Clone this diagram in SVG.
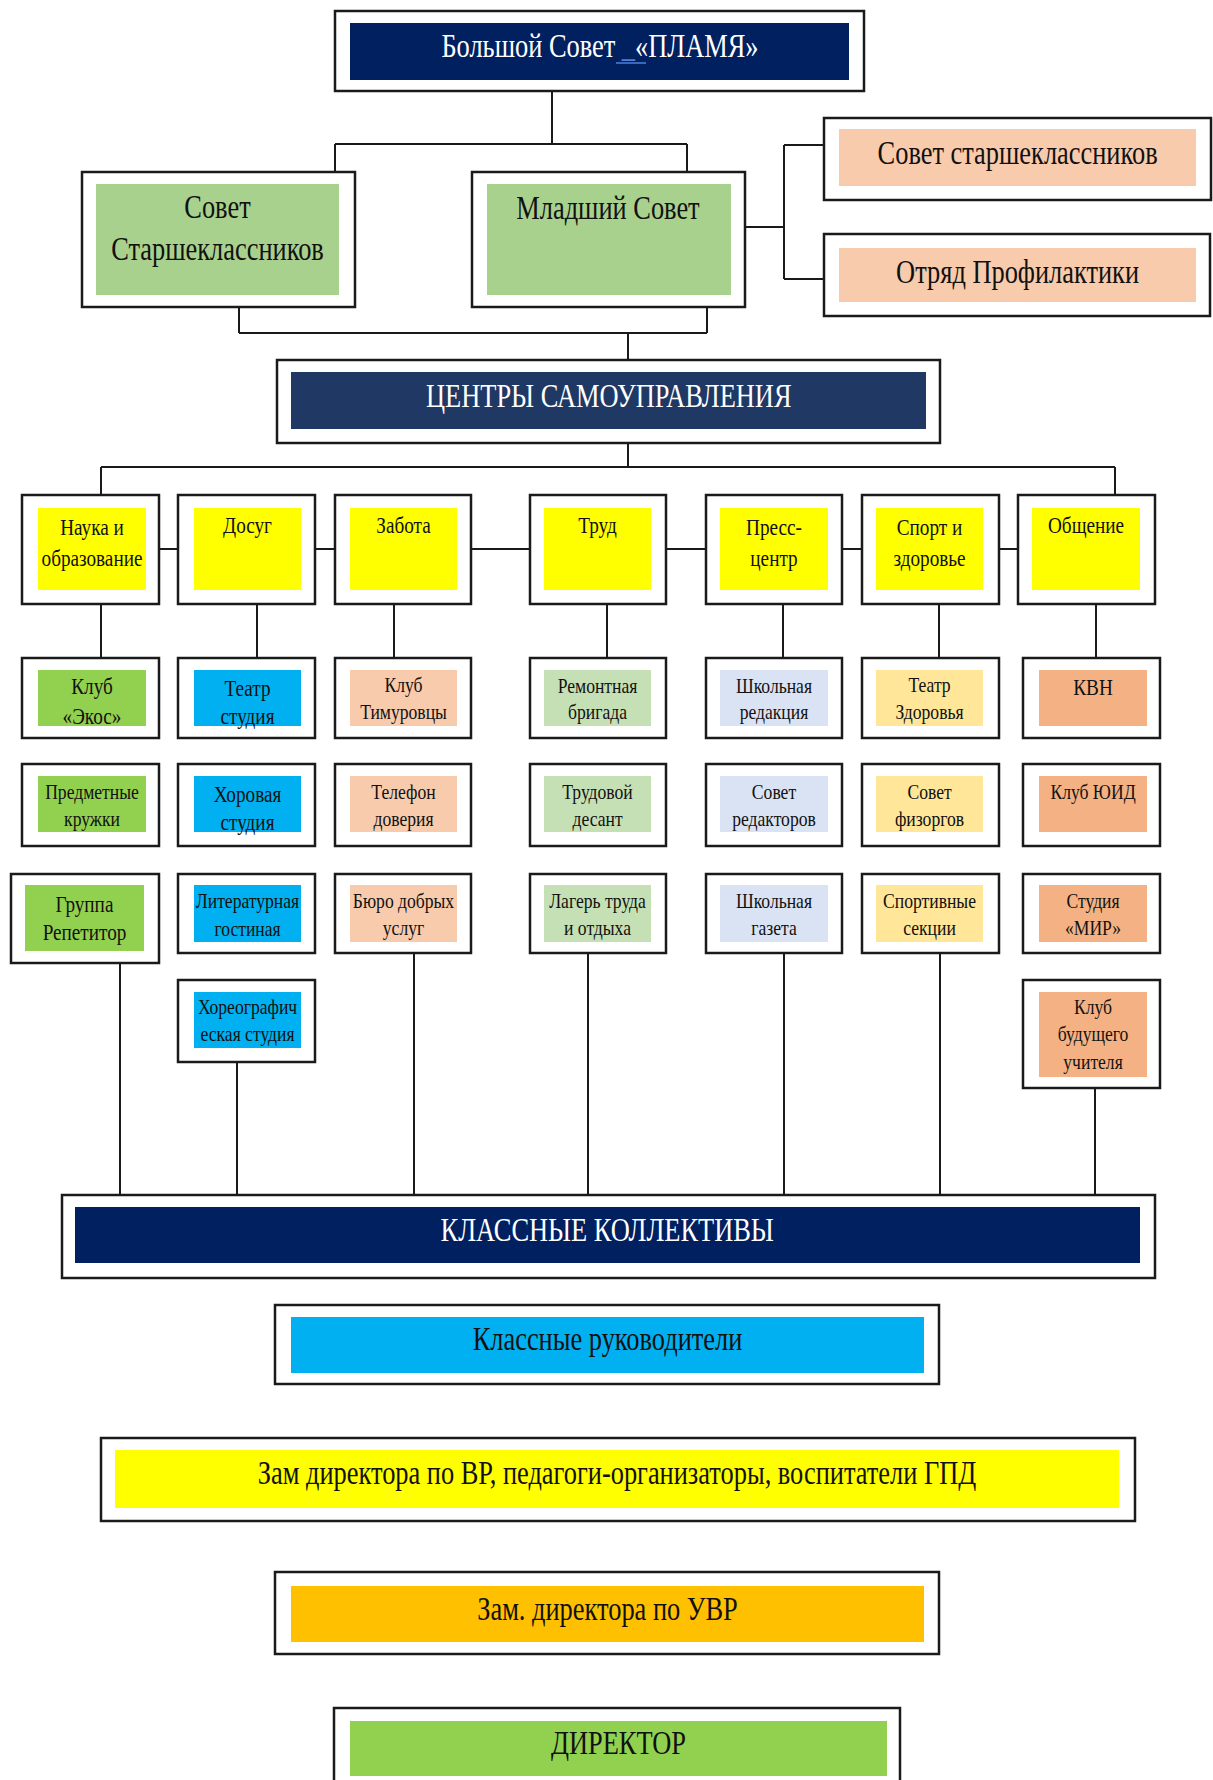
<svg xmlns="http://www.w3.org/2000/svg" width="1213" height="1780" viewBox="0 0 1213 1780">
<style>
.frame{fill:#ffffff;stroke:#1a1a1a;stroke-width:2.5}
.conn{stroke:#1a1a1a;stroke-width:2;fill:none}
text{font-family:"Liberation Serif","Times New Roman",serif;text-anchor:middle;fill:#111}
.big{font-size:33px}
.w{fill:#ffffff}
.cat{font-size:24px}
.sub{font-size:22px}
.sub24{font-size:24px}
</style>
<rect width="1213" height="1780" fill="#ffffff"/>

<g id="connectors">
<path class="conn" d="M552 91V144M335 144H687M335 144V172M687 144V172"/>
<path class="conn" d="M745 227H784M784 145V279M784 145H824M784 279H824"/>
<path class="conn" d="M239 307V333M707 307V333M239 333H707M628 333V360"/>
<path class="conn" d="M628 443V467M101 467H1115M101 467V495M1115 467V495"/>
<path class="conn" d="M159 549H178M315 549H335M471 549H530M666 549H706M842 549H862M999 549H1018"/>
<path class="conn" d="M101 604V658M257 604V658M394 604V658M607 604V658M783 604V658M939 604V658M1096 604V658"/>
<path class="conn" d="M120 963V1195M237 1062V1195M414 953V1195M588 953V1195M784 953V1195M940 953V1195M1095 1088V1195"/>
</g>

<g id="bolshoy-sovet">
<rect class="frame" x="335" y="11" width="529" height="80"/>
<rect x="350" y="23" width="499" height="57" fill="#002060"/>
<text class="big w" x="750" y="57" transform="scale(0.8,1)">Большой Совет <tspan fill="#4f7fd6">_</tspan>«ПЛАМЯ»</text>
<line x1="616" y1="63" x2="646" y2="63" stroke="#4f7fd6" stroke-width="1.5"/>
</g>

<g id="sovet-starsheklassnikov-left">
<rect class="frame" x="82" y="172" width="273" height="135"/>
<rect x="96" y="184" width="243" height="111" fill="#A9D18E"/>
<text class="big" x="271.9" y="218" transform="scale(0.8,1)">Совет</text>
<text class="big" x="271.9" y="260" transform="scale(0.8,1)">Старшеклассников</text>
</g>

<g id="mladshiy-sovet">
<rect class="frame" x="472" y="172" width="273" height="135"/>
<rect x="487" y="184" width="244" height="111" fill="#A9D18E"/>
<text class="big" x="760" y="219" transform="scale(0.8,1)">Младший Совет</text>
</g>

<g id="sovet-starsheklassnikov-right">
<rect class="frame" x="824" y="118" width="387" height="82"/>
<rect x="839" y="129" width="357" height="57" fill="#F8CBAD"/>
<text class="big" x="1272" y="164" transform="scale(0.8,1)">Совет старшеклассников</text>
</g>

<g id="otryad-profilaktiki">
<rect class="frame" x="824" y="234" width="386" height="82"/>
<rect x="839" y="248" width="357" height="54" fill="#F8CBAD"/>
<text class="big" x="1272" y="283" transform="scale(0.8,1)">Отряд Профилактики</text>
</g>

<g id="centry">
<rect class="frame" x="277" y="360" width="663" height="83"/>
<rect x="291" y="372" width="635" height="57" fill="#1F3864"/>
<text class="big w" x="761" y="407" transform="scale(0.8,1)">ЦЕНТРЫ САМОУПРАВЛЕНИЯ</text>
</g>

<g id="cat-nauka">
<rect class="frame" x="22" y="495" width="137" height="109"/>
<rect x="38" y="508" width="108" height="82" fill="#FFFF00"/>
<text class="cat" x="115" y="535" transform="scale(0.8,1)">Наука и</text>
<text class="cat" x="115" y="566" transform="scale(0.8,1)">образование</text>
</g>
<g id="cat-dosug">
<rect class="frame" x="178" y="495" width="137" height="109"/>
<rect x="194" y="508" width="107" height="82" fill="#FFFF00"/>
<text class="cat" x="309.4" y="533" transform="scale(0.8,1)">Досуг</text>
</g>
<g id="cat-zabota">
<rect class="frame" x="335" y="495" width="136" height="109"/>
<rect x="350" y="508" width="107" height="82" fill="#FFFF00"/>
<text class="cat" x="504.4" y="533" transform="scale(0.8,1)">Забота</text>
</g>
<g id="cat-trud">
<rect class="frame" x="530" y="495" width="136" height="109"/>
<rect x="544" y="508" width="107" height="82" fill="#FFFF00"/>
<text class="cat" x="746.9" y="533" transform="scale(0.8,1)">Труд</text>
</g>
<g id="cat-press">
<rect class="frame" x="706" y="495" width="136" height="109"/>
<rect x="720" y="508" width="108" height="82" fill="#FFFF00"/>
<text class="cat" x="967.5" y="535" transform="scale(0.8,1)">Пресс-</text>
<text class="cat" x="967.5" y="566" transform="scale(0.8,1)">центр</text>
</g>
<g id="cat-sport">
<rect class="frame" x="862" y="495" width="137" height="109"/>
<rect x="876" y="508" width="107" height="82" fill="#FFFF00"/>
<text class="cat" x="1161.9" y="535" transform="scale(0.8,1)">Спорт и</text>
<text class="cat" x="1161.9" y="566" transform="scale(0.8,1)">здоровье</text>
</g>
<g id="cat-obshchenie">
<rect class="frame" x="1018" y="495" width="137" height="109"/>
<rect x="1032" y="508" width="108" height="82" fill="#FFFF00"/>
<text class="cat" x="1357.5" y="533" transform="scale(0.8,1)">Общение</text>
</g>

<!-- column 1 -->
<g id="klub-ekos">
<rect class="frame" x="22" y="658" width="137" height="80"/>
<rect x="38" y="670" width="108" height="56" fill="#92D050"/>
<text class="sub24" x="115" y="694" transform="scale(0.8,1)">Клуб</text>
<text class="sub24" x="115" y="724" transform="scale(0.8,1)">«Экос»</text>
</g>
<g id="predmetnye-kruzhki">
<rect class="frame" x="22" y="764" width="137" height="82"/>
<rect x="38" y="776" width="108" height="56" fill="#92D050"/>
<text class="sub" x="115" y="799" transform="scale(0.8,1)">Предметные</text>
<text class="sub" x="115" y="826" transform="scale(0.8,1)">кружки</text>
</g>
<g id="gruppa-repetitor">
<rect class="frame" x="11" y="874" width="148" height="89"/>
<rect x="25" y="885" width="119" height="66" fill="#92D050"/>
<text class="sub24" x="105.6" y="912" transform="scale(0.8,1)">Группа</text>
<text class="sub24" x="105.6" y="940" transform="scale(0.8,1)">Репетитор</text>
</g>

<!-- column 2 -->
<g id="teatr-studiya">
<rect class="frame" x="178" y="658" width="137" height="80"/>
<rect x="194" y="670" width="107" height="56" fill="#00B0F0"/>
<text class="sub24" x="309.4" y="696" transform="scale(0.8,1)">Театр</text>
<text class="sub24" x="309.4" y="724" transform="scale(0.8,1)">студия</text>
</g>
<g id="khorovaya-studiya">
<rect class="frame" x="178" y="764" width="137" height="82"/>
<rect x="194" y="776" width="107" height="56" fill="#00B0F0"/>
<text class="sub24" x="309.4" y="802" transform="scale(0.8,1)">Хоровая</text>
<text class="sub24" x="309.4" y="830" transform="scale(0.8,1)">студия</text>
</g>
<g id="literaturnaya-gostinaya">
<rect class="frame" x="178" y="874" width="137" height="79"/>
<rect x="194" y="885" width="107" height="57" fill="#00B0F0"/>
<text class="sub" x="309.4" y="908" transform="scale(0.8,1)">Литературная</text>
<text class="sub" x="309.4" y="936" transform="scale(0.8,1)">гостиная</text>
</g>
<g id="khoreograficheskaya-studiya">
<rect class="frame" x="178" y="980" width="137" height="82"/>
<rect x="194" y="992" width="107" height="56" fill="#00B0F0"/>
<text class="sub" x="309.4" y="1014" transform="scale(0.8,1)">Хореографич</text>
<text class="sub" x="309.4" y="1041" transform="scale(0.8,1)">еская студия</text>
</g>

<!-- column 3 -->
<g id="klub-timurovtsy">
<rect class="frame" x="335" y="658" width="136" height="80"/>
<rect x="350" y="670" width="107" height="56" fill="#F8CBAD"/>
<text class="sub" x="504.4" y="692" transform="scale(0.8,1)">Клуб</text>
<text class="sub" x="504.4" y="719" transform="scale(0.8,1)">Тимуровцы</text>
</g>
<g id="telefon-doveriya">
<rect class="frame" x="335" y="764" width="136" height="82"/>
<rect x="350" y="776" width="107" height="56" fill="#F8CBAD"/>
<text class="sub" x="504.4" y="799" transform="scale(0.8,1)">Телефон</text>
<text class="sub" x="504.4" y="826" transform="scale(0.8,1)">доверия</text>
</g>
<g id="byuro-dobrykh-uslug">
<rect class="frame" x="335" y="874" width="136" height="79"/>
<rect x="350" y="885" width="107" height="57" fill="#F8CBAD"/>
<text class="sub" x="504.4" y="908" transform="scale(0.8,1)">Бюро добрых</text>
<text class="sub" x="504.4" y="935" transform="scale(0.8,1)">услуг</text>
</g>

<!-- column 4 -->
<g id="remontnaya-brigada">
<rect class="frame" x="530" y="658" width="136" height="80"/>
<rect x="544" y="670" width="107" height="56" fill="#C5E0B4"/>
<text class="sub" x="746.9" y="693" transform="scale(0.8,1)">Ремонтная</text>
<text class="sub" x="746.9" y="719" transform="scale(0.8,1)">бригада</text>
</g>
<g id="trudovoy-desant">
<rect class="frame" x="530" y="764" width="136" height="82"/>
<rect x="544" y="776" width="107" height="56" fill="#C5E0B4"/>
<text class="sub" x="746.9" y="799" transform="scale(0.8,1)">Трудовой</text>
<text class="sub" x="746.9" y="826" transform="scale(0.8,1)">десант</text>
</g>
<g id="lager-truda">
<rect class="frame" x="530" y="874" width="136" height="79"/>
<rect x="544" y="885" width="107" height="57" fill="#C5E0B4"/>
<text class="sub" x="746.9" y="908" transform="scale(0.8,1)">Лагерь труда</text>
<text class="sub" x="746.9" y="935" transform="scale(0.8,1)">и отдыха</text>
</g>

<!-- column 5 -->
<g id="shkolnaya-redaktsiya">
<rect class="frame" x="706" y="658" width="136" height="80"/>
<rect x="720" y="670" width="108" height="56" fill="#DAE3F3"/>
<text class="sub" x="967.5" y="693" transform="scale(0.8,1)">Школьная</text>
<text class="sub" x="967.5" y="719" transform="scale(0.8,1)">редакция</text>
</g>
<g id="sovet-redaktorov">
<rect class="frame" x="706" y="764" width="136" height="82"/>
<rect x="720" y="776" width="108" height="56" fill="#DAE3F3"/>
<text class="sub" x="967.5" y="799" transform="scale(0.8,1)">Совет</text>
<text class="sub" x="967.5" y="826" transform="scale(0.8,1)">редакторов</text>
</g>
<g id="shkolnaya-gazeta">
<rect class="frame" x="706" y="874" width="136" height="79"/>
<rect x="720" y="885" width="108" height="57" fill="#DAE3F3"/>
<text class="sub" x="967.5" y="908" transform="scale(0.8,1)">Школьная</text>
<text class="sub" x="967.5" y="935" transform="scale(0.8,1)">газета</text>
</g>

<!-- column 6 -->
<g id="teatr-zdorovya">
<rect class="frame" x="862" y="658" width="137" height="80"/>
<rect x="876" y="670" width="107" height="56" fill="#FFE699"/>
<text class="sub" x="1161.9" y="692" transform="scale(0.8,1)">Театр</text>
<text class="sub" x="1161.9" y="719" transform="scale(0.8,1)">Здоровья</text>
</g>
<g id="sovet-fizorgov">
<rect class="frame" x="862" y="764" width="137" height="82"/>
<rect x="876" y="776" width="107" height="56" fill="#FFE699"/>
<text class="sub" x="1161.9" y="799" transform="scale(0.8,1)">Совет</text>
<text class="sub" x="1161.9" y="826" transform="scale(0.8,1)">физоргов</text>
</g>
<g id="sportivnye-sektsii">
<rect class="frame" x="862" y="874" width="137" height="79"/>
<rect x="876" y="885" width="107" height="57" fill="#FFE699"/>
<text class="sub" x="1161.9" y="908" transform="scale(0.8,1)">Спортивные</text>
<text class="sub" x="1161.9" y="935" transform="scale(0.8,1)">секции</text>
</g>

<!-- column 7 -->
<g id="kvn">
<rect class="frame" x="1023" y="658" width="137" height="80"/>
<rect x="1039" y="670" width="108" height="56" fill="#F4B183"/>
<text class="sub24" x="1366.3" y="695" transform="scale(0.8,1)">КВН</text>
</g>
<g id="klub-yuid">
<rect class="frame" x="1023" y="764" width="137" height="82"/>
<rect x="1039" y="776" width="108" height="56" fill="#F4B183"/>
<text class="sub" x="1366.3" y="799" transform="scale(0.8,1)">Клуб ЮИД</text>
</g>
<g id="studiya-mir">
<rect class="frame" x="1023" y="874" width="137" height="79"/>
<rect x="1039" y="885" width="108" height="57" fill="#F4B183"/>
<text class="sub" x="1366.3" y="908" transform="scale(0.8,1)">Студия</text>
<text class="sub" x="1366.3" y="935" transform="scale(0.8,1)">«МИР»</text>
</g>
<g id="klub-budushchego-uchitelya">
<rect class="frame" x="1023" y="980" width="137" height="108"/>
<rect x="1039" y="992" width="108" height="85" fill="#F4B183"/>
<text class="sub" x="1366.3" y="1014" transform="scale(0.8,1)">Клуб</text>
<text class="sub" x="1366.3" y="1041" transform="scale(0.8,1)">будущего</text>
<text class="sub" x="1366.3" y="1069" transform="scale(0.8,1)">учителя</text>
</g>

<g id="klassnye-kollektivy">
<rect class="frame" x="62" y="1195" width="1093" height="83"/>
<rect x="75" y="1207" width="1065" height="56" fill="#002060"/>
<text class="big w" x="759" y="1241" transform="scale(0.8,1)">КЛАССНЫЕ КОЛЛЕКТИВЫ</text>
</g>

<g id="klassnye-rukovoditeli">
<rect class="frame" x="275" y="1305" width="664" height="79"/>
<rect x="291" y="1317" width="633" height="56" fill="#00B0F0"/>
<text class="big" x="759.4" y="1350" transform="scale(0.8,1)">Классные руководители</text>
</g>

<g id="zam-vr">
<rect class="frame" x="101" y="1438" width="1034" height="83"/>
<rect x="115" y="1450" width="1004" height="58" fill="#FFFF00"/>
<text class="big" x="771.3" y="1484" transform="scale(0.8,1)">Зам директора по ВР, педагоги-организаторы, воспитатели ГПД</text>
</g>

<g id="zam-uvr">
<rect class="frame" x="275" y="1572" width="664" height="82"/>
<rect x="291" y="1586" width="633" height="56" fill="#FFC000"/>
<text class="big" x="759.4" y="1620" transform="scale(0.8,1)">Зам. директора по УВР</text>
</g>

<g id="direktor">
<rect class="frame" x="334" y="1708" width="566" height="90"/>
<rect x="350" y="1721" width="537" height="55" fill="#92D050"/>
<text class="big" x="773.1" y="1754" transform="scale(0.8,1)">ДИРЕКТОР</text>
</g>
</svg>
